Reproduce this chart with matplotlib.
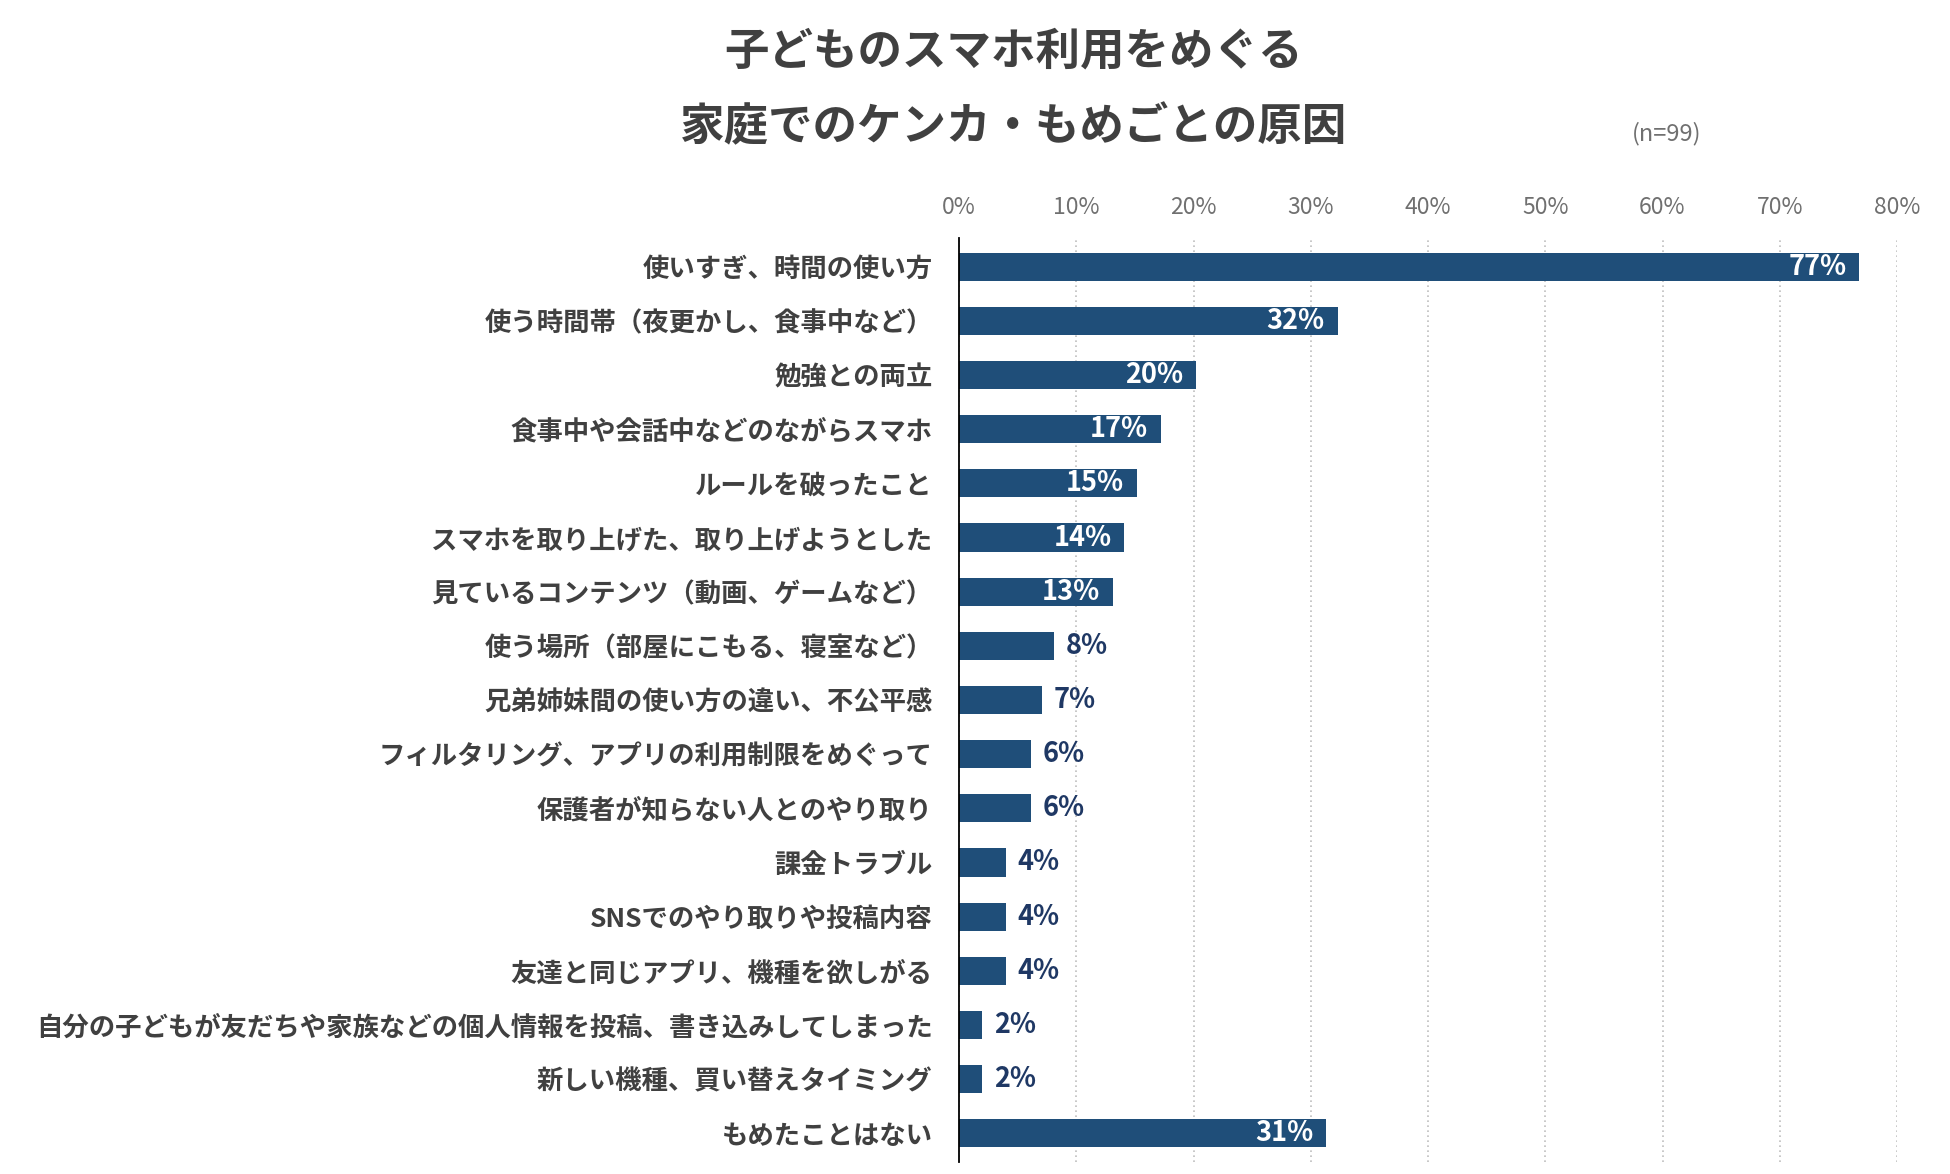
import matplotlib.pyplot as plt
from matplotlib.ticker import MultipleLocator, PercentFormatter

plt.rcParams['font.family'] = ['Noto Sans CJK JP', 'DejaVu Sans']

# データ (n=99)
categories = [
    '使いすぎ、時間の使い方',
    '使う時間帯（夜更かし、食事中など）',
    '勉強との両立',
    '食事中や会話中などのながらスマホ',
    'ルールを破ったこと',
    'スマホを取り上げた、取り上げようとした',
    '見ているコンテンツ（動画、ゲームなど）',
    '使う場所（部屋にこもる、寝室など）',
    '兄弟姉妹間の使い方の違い、不公平感',
    'フィルタリング、アプリの利用制限をめぐって',
    '保護者が知らない人とのやり取り',
    '課金トラブル',
    'SNSでのやり取りや投稿内容',
    '友達と同じアプリ、機種を欲しがる',
    '自分の子どもが友だちや家族などの個人情報を投稿、書き込みしてしまった',
    '新しい機種、買い替えタイミング',
    'もめたことはない',
]
values = [76.8, 32.3, 20.2, 17.2, 15.2, 14.1, 13.1, 8.1, 7.1, 6.1, 6.1,
          4.0, 4.0, 4.0, 2.0, 2.0, 31.3]

bar_color = '#1F4E79'
text_gray = '#404040'

fig = plt.figure(figsize=(19.5, 11.74), dpi=100)
ax = fig.add_axes([959 / 1950, 12 / 1174, (1897 - 959) / 1950, (1162 - 238) / 1174])

y = list(range(len(categories)))
ax.barh(y, values, height=0.52, color=bar_color, zorder=3)

ax.set_ylim(len(categories) - 0.47, -0.53)
ax.set_xlim(0, 80)

# ラベル
for yi, v in zip(y, values):
    label = f'{v:.0f}%'
    if v >= 10:
        ax.text(v - 1.1, yi, label, ha='right', va='center', color='white',
                fontsize=19.5, fontweight='bold', zorder=4)
    else:
        ax.text(v + 1.0, yi, label, ha='left', va='center', color='#1F3864',
                fontsize=19.5, fontweight='bold', zorder=4)

ax.set_yticks(y)
ax.set_yticklabels(categories, fontsize=19, fontweight='bold', color=text_gray)
ax.tick_params(axis='y', length=0, pad=19)

ax.xaxis.set_major_locator(MultipleLocator(10))
ax.xaxis.set_major_formatter(PercentFormatter(decimals=0))
ax.xaxis.tick_top()
ax.tick_params(axis='x', length=0, labelsize=16.5, labelcolor='#707070', pad=14)

ax.grid(axis='x', color='#BFBFBF', linestyle=(0, (1, 2)), linewidth=1.2, zorder=0)
for s in ['top', 'right', 'bottom']:
    ax.spines[s].set_visible(False)
ax.spines['left'].set_color('black')
ax.spines['left'].set_linewidth(1.3)
ax.spines['left'].set_zorder(5)

fig.text(1014 / 1950, 1 - 52 / 1174, '子どものスマホ利用をめぐる', ha='center', va='center',
         fontsize=32, fontweight='bold', color=text_gray)
fig.text(1014 / 1950, 1 - 127 / 1174, '家庭でのケンカ・もめごとの原因', ha='center', va='center',
         fontsize=32, fontweight='bold', color=text_gray)
fig.text(1667 / 1950, 1 - 134 / 1174, '(n=99)', ha='center', va='center',
         fontsize=17, color='#707070')

fig.savefig('out.png', dpi=100)
